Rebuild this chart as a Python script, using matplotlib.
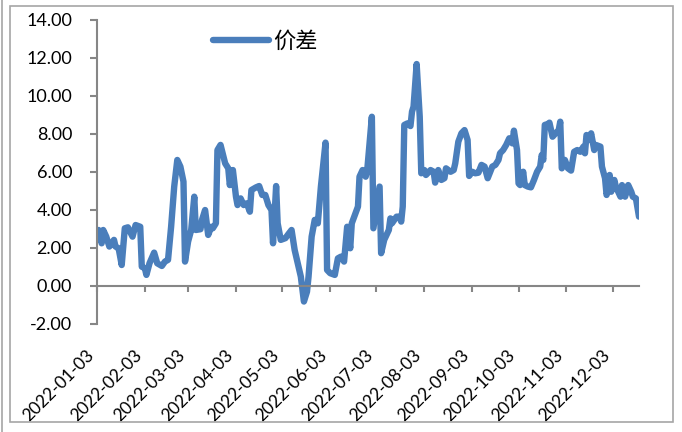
import matplotlib.pyplot as plt
from matplotlib.patches import Rectangle
from matplotlib.lines import Line2D
import pandas as pd

# 价差 series, values
dates = [
    "2022-01-04", "2022-01-06", "2022-01-07", "2022-01-09", "2022-01-11", "2022-01-14",
    "2022-01-15", "2022-01-17", "2022-01-19", "2022-01-21", "2022-01-23", "2022-01-26",
    "2022-01-28", "2022-01-31", "2022-02-01", "2022-02-03", "2022-02-04", "2022-02-06",
    "2022-02-09", "2022-02-11", "2022-02-14", "2022-02-16", "2022-02-18", "2022-02-20",
    "2022-02-22", "2022-02-24", "2022-02-26", "2022-02-28", "2022-03-01", "2022-03-03",
    "2022-03-05", "2022-03-07", "2022-03-08", "2022-03-11", "2022-03-12", "2022-03-14",
    "2022-03-16", "2022-03-18", "2022-03-19", "2022-03-21", "2022-03-22", "2022-03-24",
    "2022-03-27", "2022-03-29", "2022-03-30", "2022-04-01", "2022-04-03", "2022-04-04",
    "2022-04-06", "2022-04-08", "2022-04-10", "2022-04-12", "2022-04-13", "2022-04-16",
    "2022-04-18", "2022-04-20", "2022-04-22", "2022-04-24", "2022-04-26", "2022-04-27",
    "2022-04-29", "2022-04-30", "2022-05-02", "2022-05-05", "2022-05-07", "2022-05-09",
    "2022-05-11", "2022-05-13", "2022-05-15", "2022-05-17", "2022-05-19", "2022-05-20",
    "2022-05-22", "2022-05-24", "2022-05-26", "2022-05-28", "2022-05-31", "2022-06-01",
    "2022-06-03", "2022-06-06", "2022-06-08", "2022-06-10", "2022-06-12", "2022-06-14",
    "2022-06-16", "2022-06-17", "2022-06-19", "2022-06-21", "2022-06-22", "2022-06-24",
    "2022-06-26", "2022-06-27", "2022-06-30", "2022-07-01", "2022-07-05", "2022-07-06",
    "2022-07-08", "2022-07-11", "2022-07-12", "2022-07-13", "2022-07-16", "2022-07-18",
    "2022-07-19", "2022-07-20", "2022-07-21", "2022-07-23", "2022-07-25", "2022-07-26",
    "2022-07-27", "2022-07-29", "2022-07-31", "2022-08-01", "2022-08-03", "2022-08-04",
    "2022-08-07", "2022-08-09", "2022-08-10", "2022-08-12", "2022-08-14", "2022-08-16",
    "2022-08-17", "2022-08-20", "2022-08-22", "2022-08-23", "2022-08-25", "2022-08-27",
    "2022-08-29", "2022-08-31", "2022-09-01", "2022-09-03", "2022-09-05", "2022-09-07",
    "2022-09-09", "2022-09-11", "2022-09-13", "2022-09-16", "2022-09-18", "2022-09-20",
    "2022-09-21", "2022-09-23", "2022-09-25", "2022-09-26", "2022-09-27", "2022-09-29",
    "2022-09-30", "2022-10-02", "2022-10-03", "2022-10-04", "2022-10-06", "2022-10-07",
    "2022-10-09", "2022-10-11", "2022-10-13", "2022-10-15", "2022-10-17", "2022-10-18",
    "2022-10-19", "2022-10-20", "2022-10-22", "2022-10-23", "2022-10-25", "2022-10-27",
    "2022-10-29", "2022-10-30", "2022-10-31", "2022-11-02", "2022-11-04", "2022-11-06",
    "2022-11-08", "2022-11-10", "2022-11-12", "2022-11-14", "2022-11-15", "2022-11-16",
    "2022-11-18", "2022-11-19", "2022-11-21", "2022-11-22", "2022-11-25", "2022-11-26",
    "2022-11-28", "2022-11-29", "2022-11-30", "2022-12-01", "2022-12-02", "2022-12-04",
    "2022-12-05", "2022-12-08", "2022-12-09", "2022-12-11", "2022-12-13", "2022-12-15",
    "2022-12-16", "2022-12-18", "2022-12-20",
]
values = [
    2.94, 2.24, 2.94, 2.59, 2.07, 2.42,
    2.07, 1.98, 1.10, 3.03, 3.08, 2.59,
    3.20, 3.11, 1.01, 0.93, 0.58, 1.19,
    1.75, 1.19, 1.05, 1.28, 1.37, 3.11,
    5.22, 6.62, 6.27, 5.48, 1.28, 2.33,
    2.94, 4.69, 2.94, 2.98, 3.47, 3.99,
    2.68, 3.11, 3.03, 3.29, 7.14, 7.41,
    6.44, 6.18, 5.30, 6.09, 4.69, 4.25,
    4.60, 4.25, 4.34, 3.90, 5.04, 5.18,
    5.25, 4.78, 4.78, 4.25, 3.99, 2.24,
    5.25, 3.29, 2.42, 2.51, 2.73, 2.94,
    1.89, 1.19, 0.49, -0.82, -0.30, 0.49,
    2.59, 3.47, 3.29, 5.22, 7.53, 0.84,
    0.67, 0.58, 1.45, 1.54, 1.28, 3.11,
    1.98, 3.29, 3.73, 4.17, 5.74, 6.09,
    5.74, 6.09, 8.89, 3.03, 5.22, 1.72,
    2.42, 2.94, 3.55, 3.29, 3.64, 3.64,
    3.38, 4.17, 8.46, 8.54, 8.40, 9.16,
    9.42, 11.66, 8.89, 5.92, 6.09, 5.83,
    6.09, 6.00, 5.43, 6.09, 5.57, 5.66,
    6.18, 6.00, 6.09, 6.44, 7.58, 8.02,
    8.19, 7.67, 5.78, 6.00, 5.92, 5.95,
    6.36, 6.27, 5.66, 6.27, 6.36, 6.62,
    6.97, 7.14, 7.41, 7.58, 7.76, 7.49,
    8.16, 7.14, 5.39, 5.30, 6.00, 5.30,
    5.22, 5.18, 5.57, 6.00, 6.27, 6.88,
    6.62, 8.46, 8.51, 8.58, 7.84, 8.02,
    8.19, 8.63, 6.18, 6.62, 6.18, 6.06,
    7.05, 7.14, 7.05, 7.32, 6.97, 7.93,
    7.67, 8.02, 7.14, 7.41, 7.32, 6.27,
    5.66, 4.78, 5.04, 5.83, 4.95, 5.57,
    5.22, 4.69, 5.30, 4.69, 5.30, 4.95,
    4.69, 4.60, 3.64,
]
tick_dates = ["2022-01-03", "2022-02-03", "2022-03-03", "2022-04-03", "2022-05-03",
              "2022-06-03", "2022-07-03", "2022-08-03", "2022-09-03", "2022-10-03",
              "2022-11-03", "2022-12-03"]
y_ticks = [-2, 0, 2, 4, 6, 8, 10, 12, 14]
series_name = "价差"

plt.rcParams['font.family'] = ['Lato', 'Noto Sans CJK SC', 'DejaVu Sans']

line_color = "#4A7EBB"
axis_color = "#868686"

x = pd.to_datetime(dates)
ticks = pd.to_datetime(tick_dates)

fig = plt.figure(figsize=(6.82, 4.32), dpi=100)

# outer chart frame
fig.patches.append(Rectangle((10 / 682, 1 - 422 / 432), 663 / 682, 416 / 432,
                             transform=fig.transFigure, fill=False,
                             edgecolor="#A6A6A6", linewidth=1.2))
fig.add_artist(Line2D([1.5 / 682, 1.5 / 682], [0, 1], transform=fig.transFigure,
                      color="#A6A6A6", linewidth=1.2))

ax = fig.add_axes([97 / 682, 1 - 324 / 432, (639 - 97) / 682, (324 - 19.5) / 432])

ax.plot(x, values, color=line_color, linewidth=4.6, solid_joinstyle="round",
        solid_capstyle="round", label=series_name)

# x axis crosses at 0 (set before the tick labels, it resets them)
ax.spines["top"].set_visible(False)
ax.spines["right"].set_visible(False)
ax.spines["bottom"].set_position(("data", 0))
for side in ["left", "bottom"]:
    ax.spines[side].set_color(axis_color)
    ax.spines[side].set_linewidth(1.5)

ax.set_ylim(-2, 14)
ax.set_xlim(ticks[0], x[-1])
ax.set_yticks(y_ticks)
ax.set_yticklabels([f"{v:.2f}" for v in y_ticks])
ax.set_xticks(ticks)
ax.set_xticklabels(tick_dates, rotation=45, ha="right")

ax.tick_params(axis="y", direction="out", length=5, width=1.5, color=axis_color,
               labelsize=13, pad=13)
ax.tick_params(axis="x", direction="out", length=4, width=1.5, color=axis_color,
               labelsize=12.5, pad=40)

leg = ax.legend(loc="center left", bbox_to_anchor=(213 / 682, 1 - 41 / 432),
                bbox_transform=fig.transFigure, frameon=False, borderpad=0,
                borderaxespad=0, handlelength=2.5, handletextpad=0.2,
                prop={"size": 16})

fig.savefig("out.png", dpi=100)
